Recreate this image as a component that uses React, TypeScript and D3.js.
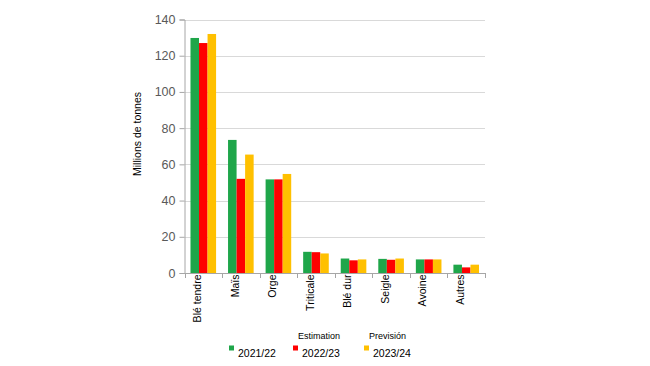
import React, { useEffect, useRef } from 'react';
import * as d3 from 'd3';

const categories = ['Blé tendre', 'Maïs', 'Orge', 'Triticale', 'Blé dur', 'Seigle', 'Avoine', 'Autres'];
const seriesNames = ['2021/22', '2022/23', '2023/24'];
const seriesNotes = ['', 'Estimation', 'Previsión'];
const colors = ['#1fa64a', '#ff0000', '#ffc000'];
const v2021 = [129.8, 73.5, 51.7, 11.7, 8.0, 7.8, 7.5, 4.6];
const v2022 = [127.0, 52.0, 51.7, 11.5, 7.0, 7.3, 7.5, 3.1];
const v2023 = [132.0, 65.4, 54.7, 10.8, 7.5, 8.0, 7.5, 4.6];
const yTicks = [0, 20, 40, 60, 80, 100, 120, 140];

const W = 650;
const H = 366;
const margin = { top: 19.5, right: 165, bottom: 93, left: 184.5 };

export default function App() {
  const ref = useRef<SVGSVGElement>(null);

  useEffect(() => {
    const svg = d3.select(ref.current);
    svg.selectAll('*').remove();
    const font = 'Liberation Sans, Arial, sans-serif';

    const x = d3.scaleBand().domain(categories).range([margin.left, W - margin.right]).padding(0);
    const x1 = d3.scaleBand().domain(seriesNames).range([0, x.bandwidth()]).paddingInner(0).paddingOuter(0.7);
    const y = d3.scaleLinear().domain([0, 140]).range([H - margin.bottom, margin.top]);

    // gridlines
    svg.append('g')
      .selectAll('line')
      .data(yTicks.slice(1))
      .join('line')
      .attr('x1', margin.left)
      .attr('x2', W - margin.right)
      .attr('y1', d => Math.round(y(d)) + 0.5)
      .attr('y2', d => Math.round(y(d)) + 0.5)
      .attr('stroke', '#d9d9d9');

    // bars
    const allSeries = [v2021, v2022, v2023];
    allSeries.forEach((vals, si) => {
      svg.append('g')
        .attr('fill', colors[si])
        .selectAll('rect')
        .data(vals)
        .join('rect')
        .attr('x', (d, i) => (x(categories[i]) as number) + (x1(seriesNames[si]) as number))
        .attr('width', x1.bandwidth())
        .attr('y', d => y(d))
        .attr('height', d => y(0) - y(d));
    });

    // y axis
    const yAxis = svg.append('g')
      .attr('transform', `translate(${margin.left},0)`)
      .call(d3.axisLeft(y).tickValues(yTicks).tickSize(5).tickPadding(4));
    yAxis.select('.domain').attr('stroke', '#a6a6a6');
    yAxis.selectAll('.tick line').attr('stroke', '#a6a6a6');
    yAxis.selectAll('.tick text')
      .attr('font-family', font)
      .attr('font-size', 12.5)
      .attr('fill', '#595959');

    // x axis
    const xg = svg.append('g');
    xg.append('line')
      .attr('x1', margin.left)
      .attr('x2', W - margin.right)
      .attr('y1', y(0) + 0.5)
      .attr('y2', y(0) + 0.5)
      .attr('stroke', '#a6a6a6');
    const bounds = categories.map(c => x(c) as number).concat([W - margin.right]);
    xg.selectAll('line.tk')
      .data(bounds)
      .join('line')
      .attr('class', 'tk')
      .attr('x1', d => Math.round(d) + 0.5)
      .attr('x2', d => Math.round(d) + 0.5)
      .attr('y1', y(0))
      .attr('y2', y(0) + 5)
      .attr('stroke', '#a6a6a6');
    xg.selectAll('text')
      .data(categories)
      .join('text')
      .attr('transform', d => `translate(${(x(d) as number) + 16.5},${y(0) + 1.5}) rotate(-90)`)
      .attr('text-anchor', 'end')
      .attr('font-family', font)
      .attr('font-size', 10.5)
      .attr('fill', '#000')
      .text(d => d);

    // y title
    svg.append('text')
      .attr('transform', `translate(141,134) rotate(-90)`)
      .attr('text-anchor', 'middle')
      .attr('font-family', font)
      .attr('font-size', 10.5)
      .attr('fill', '#000')
      .text('Millions de tonnes');

    // legend
    const legX = [229, 293, 364];
    const lg = svg.append('g');
    seriesNames.forEach((s, i) => {
      lg.append('rect')
        .attr('x', legX[i])
        .attr('y', 345.5)
        .attr('width', 5)
        .attr('height', 5)
        .attr('fill', colors[i]);
      lg.append('text')
        .attr('x', legX[i] + 9)
        .attr('y', 357)
        .attr('font-family', font)
        .attr('font-size', 10.5)
        .attr('fill', '#000')
        .text(s);
      if (seriesNotes[i]) {
        lg.append('text')
          .attr('x', legX[i] + 5)
          .attr('y', 338.5)
          .attr('font-family', font)
          .attr('font-size', 9)
          .attr('fill', '#000')
          .text(seriesNotes[i]);
      }
    });
  }, []);

  return (
    <svg
      ref={ref}
      width={W}
      height={H}
      style={{ position: 'absolute', left: 0, top: 0, background: '#fff' }}
    />
  );
}
